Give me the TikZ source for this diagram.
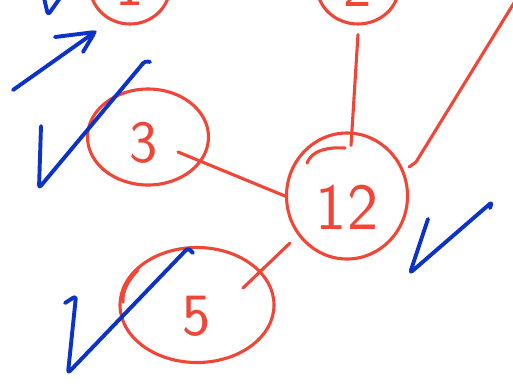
\documentclass[tikz,border=0pt]{standalone}
\usetikzlibrary{shapes.geometric,calc}
\definecolor{penred}{RGB}{240,70,55}
\definecolor{penblue}{RGB}{12,50,200}
\newcommand\handdigit[2]{\raisebox{#1}[0pt][0pt]{#2}}
\begin{document}
\begin{tikzpicture}[x=1pt,y=-1pt,
  bubble/.style={ellipse,draw=penred,line width=3.1pt,inner sep=0pt,text=penred,
    font=\sffamily\fontsize{60}{60}\selectfont},
  edge/.style={draw=penred,line width=3.1pt,line cap=round,line join=round},
  ink/.style={draw=penblue,line width=3.9pt,line cap=round,line join=round,rounded corners=3pt}]
\clip (0,0) rectangle (513,384);
\fill[white] (0,0) rectangle (513,384);
% nodes
\node[bubble,minimum width=80,minimum height=76] (n1) at (130,-14) {\handdigit{-19pt}{1}};
\node[bubble,minimum width=82,minimum height=76] (n2) at (358,-14) {\handdigit{-20pt}{2}};
\node[bubble,minimum width=121,minimum height=96] (n3) at (148,137) {\handdigit{-25pt}{\kern-8pt 3}};
\node[bubble,minimum width=121,minimum height=126,font=\sffamily\fontsize{66}{66}\selectfont] (n12) at (347,196) {\handdigit{-33pt}{12}};
\node[bubble,minimum width=154,minimum height=115] (n5) at (197,305) {\handdigit{-30pt}{5}};
\coordinate (off) at (525,-15);
% connectors
\draw[edge] ([shift={(30,15)}]n3.center) -- (n12.west);
\draw[edge] ([shift={(0,9)}]n2.south) -- ([shift={(4,14)}]n12.north);
\draw[edge] ([shift={(0,-29)}]n12.east) -- ++(7,-5) -- (off);
\draw[edge] ([shift={(-57,47)}]n12.center) -- ([shift={(46,-17)}]n5.center);
% extra pen strokes
\draw[edge] (307,163) .. controls (312,150) and (328,147) .. (345,148);
\draw[edge] (138,270) .. controls (128,280) and (122,292) .. (123,302);
% blue marks
\draw[ink] (44,-2) -- (48,15) -- (60,-2);
\draw[ink] (13,90) -- (95,32);
\draw[ink] (55,37) -- (95,32) -- (83,52);
\draw[ink] (41,126) -- (39,188) -- (145,61) -- (150,62);
\draw[ink] (65,303) -- (76,296) -- (68,373) -- (188,248) -- (193,253);
\draw[ink] (428,219) -- (410,273) -- (492,202) -- (490,208);
\end{tikzpicture}
\end{document}
